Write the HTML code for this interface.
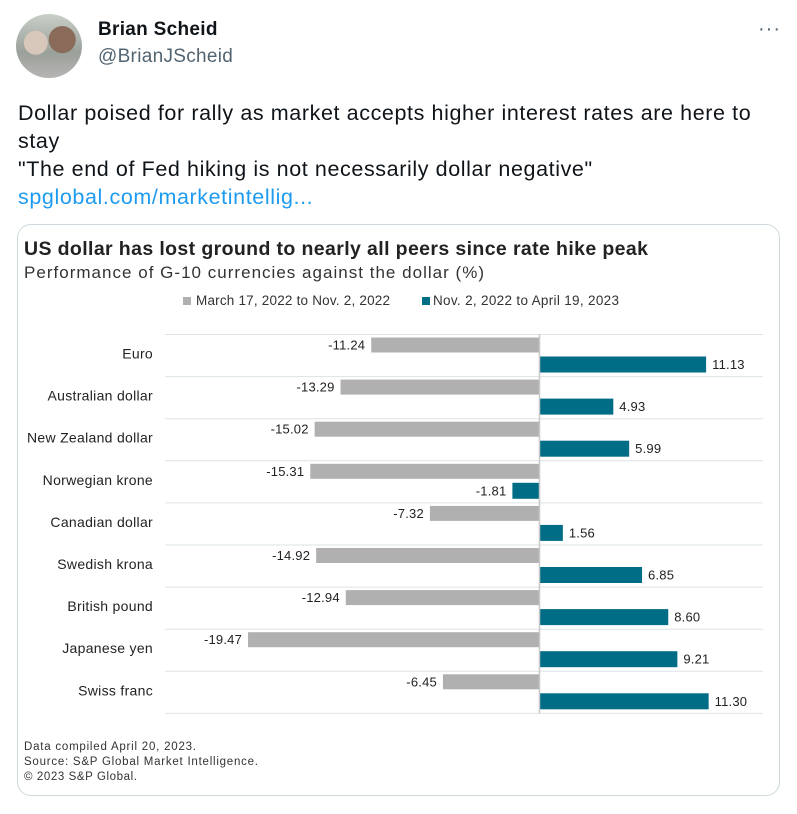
<!DOCTYPE html>
<html><head><meta charset="utf-8"><style>
body{margin:0;width:797px;height:814px;background:#fff;font-family:"Liberation Sans",sans-serif;position:relative;overflow:hidden}
.abs{position:absolute}
</style></head><body>
<div class="abs" style="left:16px;top:14px;width:66px;height:64px;border-radius:50%;background:radial-gradient(circle at 30% 45%,#d8c8bc 0 20%,transparent 21%),radial-gradient(circle at 70% 40%,#8a6a58 0 22%,transparent 23%),linear-gradient(#c9d0c8,#9aa09a 60%,#b8b4b4)"></div>
<div class="abs" style="left:98px;top:19px;font-size:19px;font-weight:bold;color:#0f1419;letter-spacing:0.3px">Brian Scheid</div>
<div class="abs" style="left:98px;top:46px;font-size:19px;color:#536471;letter-spacing:0.3px">@BrianJScheid</div>
<div class="abs" style="left:758px;top:18px;font-size:20px;color:#536471;letter-spacing:1px">···</div>
<div class="abs" style="left:18px;top:99px;width:775px;font-size:21.5px;line-height:28px;letter-spacing:0.6px;color:#0f1419;white-space:nowrap">Dollar poised for rally as market accepts higher interest rates are here to<br>stay<br>"The end of Fed hiking is not necessarily dollar negative"<br><span style="color:#1d9bf0">spglobal.com/marketintellig...</span></div>
<div class="abs" style="left:17px;top:224px;width:763px;height:572px;border:1px solid #cfd9de;border-radius:14px;box-sizing:border-box"></div>
<svg class="abs" style="left:0;top:0" width="797" height="814" id="chart">
<text x="24" y="255" font-size="19.5" font-weight="bold" fill="#222" textLength="624" lengthAdjust="spacing">US dollar has lost ground to nearly all peers since rate hike peak</text>
<text x="24" y="278" font-size="17" fill="#333" textLength="460" lengthAdjust="spacing">Performance of G-10 currencies against the dollar (%)</text>
<g>
<rect x="183" y="297" width="8" height="8" fill="#b0b0b0"/>
<text x="196" y="305" font-size="13.5" fill="#333" textLength="194" lengthAdjust="spacing">March 17, 2022 to Nov. 2, 2022</text>
<rect x="422" y="297" width="8" height="8" fill="#006d87"/>
<text x="433" y="305" font-size="13.5" fill="#333" textLength="186" lengthAdjust="spacing">Nov. 2, 2022 to April 19, 2023</text>
</g>
<g id="plot"></g>
<text x="24" y="750" font-size="11.5" fill="#333" textLength="172" lengthAdjust="spacing">Data compiled April 20, 2023.</text>
<text x="24" y="765" font-size="11.5" fill="#333" textLength="234" lengthAdjust="spacing">Source: S&amp;P Global Market Intelligence.</text>
<text x="24" y="780" font-size="11.5" fill="#333" textLength="113" lengthAdjust="spacing">© 2023 S&amp;P Global.</text>
</svg>
<script>
const categories=["Euro","Australian dollar","New Zealand dollar","Norwegian krone","Canadian dollar","Swedish krona","British pound","Japanese yen","Swiss franc"];
const period1=[-11.24,-13.29,-15.02,-15.31,-7.32,-14.92,-12.94,-19.47,-6.45];
const period2=[11.13,4.93,5.99,-1.81,1.56,6.85,8.60,9.21,11.30];
const NS="http://www.w3.org/2000/svg";
const g=document.getElementById('plot');
const x0=539.5,k=14.97,top0=334.5,pitch=42.1,gl=165,gr=763;
const xs=v=>x0+v*k;
function mk(t,a){const e=document.createElementNS(NS,t);for(const n in a)e.setAttribute(n,a[n]);g.appendChild(e);return e;}
for(let i=0;i<=categories.length;i++){
 const l=mk('line',{x1:gl,x2:gr,y1:top0+i*pitch,y2:top0+i*pitch,stroke:'#dde3e6','stroke-width':1});
 
 
}
categories.forEach((c,i)=>{
 const t=top0+i*pitch;
 const lab=mk('text',{x:153,y:t+24,'font-size':14,fill:'#222','text-anchor':'end','letter-spacing':0.3});lab.textContent=c;
 
 
 [[period1[i],t+3,15,'#b0b0b0'],[period2[i],t+22,16,'#006d87']].forEach(([v,y,h,col])=>{
  const a=Math.min(xs(0),xs(v)),w=Math.abs(xs(v)-xs(0));
  const r=mk('rect',{x:a,y:y,width:w,height:h,fill:col});
  
  
  const neg=v<0;
  const tx=mk('text',{x:neg?a-6:a+w+6,y:y+h/2+4.5,'font-size':13,fill:'#222','text-anchor':neg?'end':'start','letter-spacing':0.2});
  tx.textContent=v.toFixed(2);
  
  
 });
});
const z=mk('line',{x1:x0,x2:x0,y1:top0,y2:top0+categories.length*pitch,stroke:'#c8c8c8','stroke-width':1.5});


</script>
</body></html>
